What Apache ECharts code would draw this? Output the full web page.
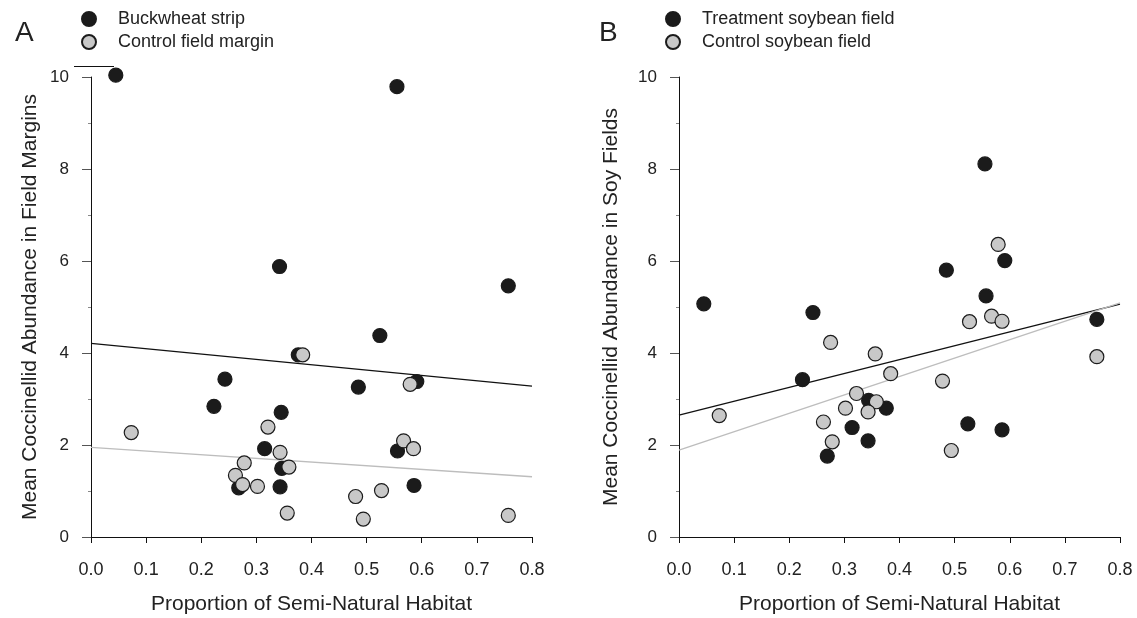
<!DOCTYPE html>
<html>
<head>
<meta charset="utf-8">
<script src="https://cdn.jsdelivr.net/npm/echarts@6/dist/echarts.min.js"></script>
<style>
html,body{margin:0;padding:0;background:#fff;}
#c{width:1137px;height:618px;}
</style>
</head>
<body>
<div id="c"></div>
<script>
// ---- Data ----
const xTicks = [0.0, 0.1, 0.2, 0.3, 0.4, 0.5, 0.6, 0.7, 0.8];
const yTicks = [0, 2, 4, 6, 8, 10];

// Panel A: field margins
const aBuckwheatX = [0.045, 0.555, 0.342, 0.757, 0.524, 0.376, 0.243, 0.223, 0.345, 0.315, 0.346, 0.268, 0.343, 0.485, 0.591, 0.556, 0.586];
const aBuckwheatY = [10.04, 9.79, 5.88, 5.46, 4.38, 3.96, 3.43, 2.84, 2.71, 1.92, 1.49, 1.07, 1.09, 3.26, 3.38, 1.87, 1.12];
const aControlX = [0.073, 0.384, 0.321, 0.343, 0.278, 0.262, 0.275, 0.302, 0.359, 0.356, 0.579, 0.567, 0.585, 0.527, 0.480, 0.494, 0.757];
const aControlY = [2.27, 3.96, 2.39, 1.84, 1.61, 1.34, 1.14, 1.10, 1.52, 0.52, 3.32, 2.09, 1.92, 1.01, 0.88, 0.39, 0.47];
const aFitBuckwheat = [[0, 4.21], [0.8, 3.28]];
const aFitControl = [[0, 1.95], [0.8, 1.31]];

// Panel B: soybean fields
const bTreatX = [0.045, 0.243, 0.224, 0.344, 0.376, 0.314, 0.343, 0.269, 0.555, 0.485, 0.591, 0.557, 0.758, 0.524, 0.586];
const bTreatY = [5.07, 4.88, 3.42, 2.97, 2.80, 2.38, 2.09, 1.76, 8.11, 5.80, 6.01, 5.24, 4.73, 2.46, 2.33];
const bControlX = [0.073, 0.275, 0.356, 0.384, 0.322, 0.302, 0.358, 0.343, 0.262, 0.278, 0.579, 0.527, 0.567, 0.586, 0.478, 0.494, 0.758];
const bControlY = [2.64, 4.23, 3.98, 3.55, 3.12, 2.80, 2.94, 2.72, 2.50, 2.07, 6.36, 4.68, 4.80, 4.69, 3.39, 1.88, 3.92];
const bFitTreat = [[0, 2.65], [0.8, 5.06]];
const bFitControl = [[0, 1.89], [0.8, 5.09]];

const names = {
  a1: 'Buckwheat strip', a2: 'Control field margin',
  b1: 'Treatment soybean field', b2: 'Control soybean field'
};
const yTitleA = 'Mean Coccinellid Abundance in Field Margins';
const yTitleB = 'Mean Coccinellid Abundance in Soy Fields';
const xTitle = 'Proportion of Semi-Natural Habitat';

// ---- Build chart ----
const FONT = '"Liberation Sans", Arial, Helvetica, sans-serif';
const INK = '#1b1b1b';
const GREY = '#c8c8c8';
const zip = (xs, ys) => xs.map((x, i) => [x, ys[i]]);

function xAxis(idx) {
  return {
    type: 'value', gridIndex: idx, min: xTicks[0], max: xTicks[xTicks.length - 1], interval: 0.1,
    axisLine: { show: true, onZero: false, lineStyle: { color: '#111', width: 1 } },
    axisTick: { show: true, length: 6, lineStyle: { color: '#111', width: 1 } },
    splitLine: { show: false },
    axisLabel: { fontSize: 18, color: '#222', fontFamily: FONT, margin: 24, formatter: v => v.toFixed(1) },
    name: xTitle, nameLocation: 'middle', nameGap: 57,
    nameTextStyle: { fontSize: 21, color: '#222', fontFamily: FONT }
  };
}
function yAxis(idx, title, gap) {
  return {
    type: 'value', gridIndex: idx, min: yTicks[0], max: yTicks[yTicks.length - 1], interval: 2,
    axisLine: { show: true, onZero: false, lineStyle: { color: '#111', width: 1 } },
    axisTick: { show: true, length: 9, lineStyle: { color: '#555', width: 1 } },
    minorTick: { show: true, splitNumber: 2, length: 3, lineStyle: { color: '#888' } },
    splitLine: { show: false },
    axisLabel: { fontSize: 17, color: '#222', fontFamily: FONT, margin: 22 },
    name: title, nameLocation: 'middle', nameGap: gap,
    nameTextStyle: { fontSize: 21, color: '#222', fontFamily: FONT }
  };
}
function pts(name, xs, ys, idx, fill) {
  return {
    type: 'scatter', name: name, xAxisIndex: idx, yAxisIndex: idx,
    data: zip(xs, ys), symbol: 'circle', symbolSize: 14, clip: false,
    itemStyle: { color: fill, borderColor: INK, borderWidth: 1.2, opacity: 1 },
    emphasis: { disabled: true }, z: 3
  };
}
function fit(id, data, idx, color) {
  return {
    type: 'line', name: id, xAxisIndex: idx, yAxisIndex: idx,
    data: data, showSymbol: false, symbol: 'none', silent: true,
    lineStyle: { color: color, width: 1.3 }, z: 2, animation: false
  };
}
function legend(left, n1, n2) {
  return {
    data: [{ name: n1, icon: 'circle' }, { name: n2, icon: 'circle' }],
    orient: 'vertical', left: left, top: 10, padding: 0,
    itemWidth: 14, itemHeight: 14, itemGap: 5,
    textStyle: { fontSize: 18, color: '#222', fontFamily: FONT, lineHeight: 18, padding: [0, 0, 0, 17] },
    selectedMode: false
  };
}

const chart = echarts.init(document.getElementById('c'), null, { renderer: 'canvas' });
chart.setOption({
  backgroundColor: '#fff',
  animation: false,
  textStyle: { fontFamily: FONT },
  title: [
    { text: 'A', left: 10, top: 14, textStyle: { fontSize: 28, fontWeight: 'normal', color: '#222', fontFamily: FONT } },
    { text: 'B', left: 594, top: 14, textStyle: { fontSize: 28, fontWeight: 'normal', color: '#222', fontFamily: FONT } }
  ],
  legend: [legend(81, names.a1, names.a2), legend(665, names.b1, names.b2)],
  grid: [
    { left: 91, right: 605, top: 77, bottom: 81, outerBoundsMode: 'none', containLabel: false },
    { left: 679, right: 17, top: 77, bottom: 81, outerBoundsMode: 'none', containLabel: false }
  ],
  xAxis: [xAxis(0), xAxis(1)],
  yAxis: [yAxis(0, yTitleA, 50), yAxis(1, yTitleB, 57)],
  graphic: [
    { type: 'line', shape: { x1: 74, y1: 66.5, x2: 114, y2: 66.5 }, style: { stroke: '#111', lineWidth: 1 } }
  ],
  series: [
    fit('fitA1', aFitBuckwheat, 0, '#111'),
    fit('fitA2', aFitControl, 0, '#bdbdbd'),
    fit('fitB1', bFitTreat, 1, '#111'),
    fit('fitB2', bFitControl, 1, '#bdbdbd'),
    pts(names.a1, aBuckwheatX, aBuckwheatY, 0, INK),
    pts(names.a2, aControlX, aControlY, 0, GREY),
    pts(names.b1, bTreatX, bTreatY, 1, INK),
    pts(names.b2, bControlX, bControlY, 1, GREY)
  ]
});
</script>
</body>
</html>
